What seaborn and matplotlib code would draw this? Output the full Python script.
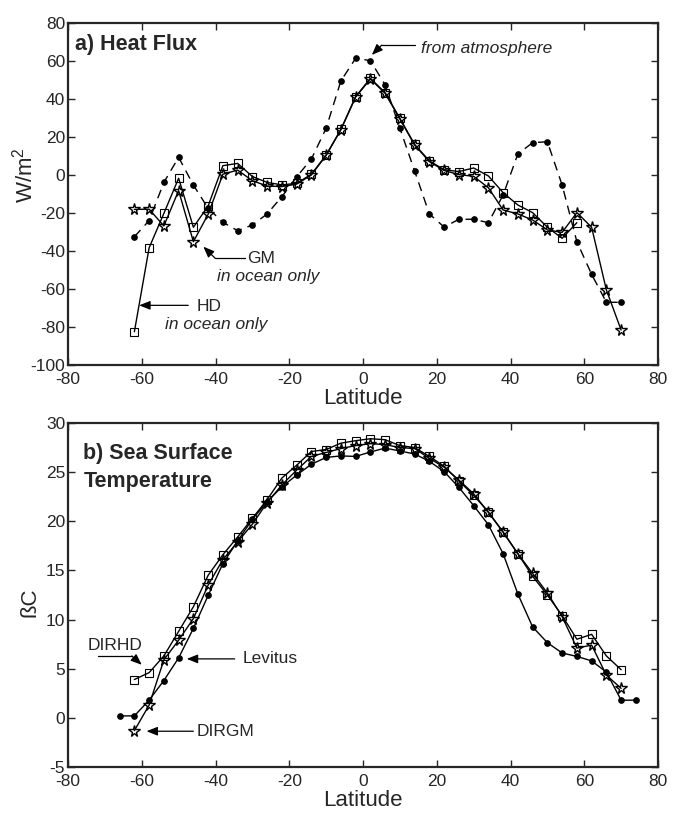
import numpy as np
import pandas as pd
import matplotlib
matplotlib.use("Agg")
import matplotlib.pyplot as plt
import seaborn as sns

# ---------------- data: (a) heat flux ----------------
lat_hd = [-62, -58, -54, -50, -46, -42, -38, -34, -30, -26, -22, -18, -14, -10, -6, -2,
          2, 6, 10, 14, 18, 22, 26, 30, 34, 38, 42, 46, 50, 54, 58]
flux_hd = [-82.5, -38.3, -20.2, -1.7, -27.5, -16.3, 4.9, 6.1, -0.8, -3.9, -5.2, -4.4, 0.4, 10.5, 24.0, 41.2,
           50.9, 43.3, 29.8, 16.1, 7.4, 2.8, 1.8, 3.7, -0.5, -9.3, -15.8, -19.8, -27.5, -33.3, -25.1]

lat_gm = [-62, -58, -54, -50, -46, -42, -38, -34, -30, -26, -22, -18, -14, -10, -6, -2,
          2, 6, 10, 14, 18, 22, 26, 30, 34, 38, 42, 46, 50, 54, 58, 62, 66, 70]
flux_gm = [-18.1, -18.0, -26.8, -8.2, -35.1, -20.7, 0.4, 2.6, -3.0, -5.8, -6.1, -4.8, 0.0, 10.3, 23.8, 41.0,
           50.5, 43.0, 29.5, 15.8, 7.0, 2.4, 0.2, -0.7, -6.7, -18.4, -20.5, -23.7, -28.9, -30.2, -19.8, -27.5, -60.5, -81.6]

lat_atm = [-62, -58, -54, -50, -46, -42, -38, -34, -30, -26, -22, -18, -14, -10, -6, -2,
           2, 6, 10, 14, 18, 22, 26, 30, 34, 38, 42, 46, 50, 54, 58, 62, 66, 70]
flux_atm = [-32.5, -24.0, -3.9, 9.3, -5.3, -17.5, -24.9, -29.3, -26.3, -20.5, -11.4, -1.0, 8.4, 24.6, 49.5, 61.4,
            60.2, 47.4, 24.6, 2.1, -20.5, -27.4, -23.3, -23.3, -25.1, -10.5, 11.1, 17.0, 17.5, -5.3, -35.1, -52.3, -67.0, -67.0]

# ---------------- data: (b) sea surface temperature ----------------
lat_lev = [-66, -62, -58, -54, -50, -46, -42, -38, -34, -30, -26, -22, -18, -14, -10, -6, -2,
           2, 6, 10, 14, 18, 22, 26, 30, 34, 38, 42, 46, 50, 54, 58, 62, 66, 70, 74]
sst_lev = [0.2, 0.2, 1.8, 3.8, 6.1, 9.1, 12.45, 15.7, 18.0, 20.2, 22.0, 23.5, 24.7, 25.8, 26.5, 26.65, 26.6,
           27.05, 27.45, 27.15, 26.85, 26.1, 25.05, 23.45, 21.6, 19.65, 16.7, 12.6, 9.25, 7.65, 6.6, 6.25, 5.8, 4.65, 1.8, 1.8]

lat_dir = [-62, -58, -54, -50, -46, -42, -38, -34, -30, -26, -22, -18, -14, -10, -6, -2,
           2, 6, 10, 14, 18, 22, 26, 30, 34, 38, 42, 46, 50, 54, 58, 62, 66, 70]
sst_dirhd = [3.9, 4.6, 6.3, 8.8, 11.3, 14.5, 16.6, 18.4, 20.3, 22.2, 24.4, 25.7, 27.1, 27.3, 27.95, 28.2,
             28.4, 28.3, 27.7, 27.5, 26.6, 25.6, 24.1, 22.65, 20.95, 18.9, 16.7, 14.4, 12.5, 10.4, 8.0, 8.5, 6.3, 4.9]
sst_dirgm = [-1.3, 1.3, 5.9, 7.9, 10.1, 13.5, 16.1, 17.9, 19.7, 21.9, 23.7, 25.2, 26.6, 27.0, 27.4, 27.7,
             27.9, 27.8, 27.5, 27.4, 26.4, 25.5, 24.2, 22.8, 20.9, 18.9, 16.7, 14.7, 12.7, 10.3, 7.1, 7.4, 4.35, 3.0]

x_ticks = [-80, -60, -40, -20, 0, 20, 40, 60, 80]
y_ticks_a = [-100, -80, -60, -40, -20, 0, 20, 40, 60, 80]
y_ticks_b = [-5, 0, 5, 10, 15, 20, 25, 30]

# ---------------- style ----------------
sns.set_style("ticks")
plt.rcParams['font.family'] = ['Liberation Sans', 'DejaVu Sans']
plt.rcParams['mathtext.fontset'] = 'custom'
plt.rcParams['mathtext.rm'] = 'Liberation Sans'
plt.rcParams['mathtext.it'] = 'Liberation Sans:italic'

fig = plt.figure(figsize=(6.74, 8.13), dpi=100)
ax1 = fig.add_axes([68 / 674, 1 - 365 / 813, 590 / 674, 342 / 813])
ax2 = fig.add_axes([68 / 674, 1 - 767 / 813, 590 / 674, 344 / 813])

LW = 1.0
common = dict(color='black', linewidth=LW, estimator=None, sort=False, legend=False)

def series(ax, x, y, marker, ms, fill, ls='-', mew=0.8):
    df = pd.DataFrame({'lat': x, 'val': y})
    sns.lineplot(data=df, x='lat', y='val', ax=ax, marker=marker, markersize=ms,
                 markerfacecolor=fill, markeredgecolor='black', markeredgewidth=mew,
                 linestyle=ls, **common)

# (a)
series(ax1, lat_atm, flux_atm, 'o', 4.0, 'black', ls=(0, (6.5, 4.5)))
series(ax1, lat_hd, flux_hd, 's', 5.5, 'none')
series(ax1, lat_gm, flux_gm, '*', 8.5, 'none', mew=1.0)

# (b)
series(ax2, lat_lev, sst_lev, 'o', 4.0, 'black')
series(ax2, lat_dir, sst_dirhd, 's', 5.5, 'none')
series(ax2, lat_dir, sst_dirgm, '*', 8.5, 'none', mew=1.0)

TICK_FS = 12.5
LAB_FS = 16
for ax, yt in ((ax1, y_ticks_a), (ax2, y_ticks_b)):
    ax.set_xlim(-80, 80)
    ax.set_xticks(x_ticks)
    ax.set_xticklabels([str(t) for t in x_ticks])
    ax.set_yticks(yt)
    ax.set_yticklabels([str(t) for t in yt])
    ax.set_ylim(yt[0], yt[-1])
    ax.tick_params(direction='in', length=5, width=1.0, top=True, right=True,
                   labelsize=TICK_FS)
    ax.tick_params(axis='x', pad=5)
    ax.tick_params(axis='y', pad=2)
    for s in ax.spines.values():
        s.set_linewidth(1.6)
        s.set_visible(True)
    ax.set_xlabel('Latitude', fontsize=LAB_FS, labelpad=1)

ax1.set_ylabel('W/m$^{2}$', fontsize=LAB_FS)
ax1.yaxis.set_label_coords(-0.052, 0.555)
ax2.set_ylabel('ßC', fontsize=LAB_FS)
ax2.yaxis.set_label_coords(-0.047, 0.48)

# titles
ax1.text(0.012, 0.938, 'a) Heat Flux', transform=ax1.transAxes, fontsize=15.5,
         fontweight='bold', ha='left', va='center')
ax2.text(0.026, 0.912, 'b) Sea Surface', transform=ax2.transAxes, fontsize=15.5,
         fontweight='bold', ha='left', va='center')
ax2.text(0.026, 0.829, 'Temperature', transform=ax2.transAxes, fontsize=15.5,
         fontweight='bold', ha='left', va='center')

NOTE_FS = 12.5
ARW = dict(arrowstyle='-|>,head_length=0.55,head_width=0.22', color='black', lw=0.9,
           shrinkA=0, shrinkB=0, mutation_scale=12)

def note(ax, path):
    if len(path) == 3:
        ax.plot([path[0][0], path[1][0]], [path[0][1], path[1][1]], color='black', lw=0.9)
        ax.annotate('', xy=path[2], xytext=path[1], arrowprops=ARW)
    else:
        ax.annotate('', xy=path[1], xytext=path[0], arrowprops=ARW)

# (a) annotations
ax1.text(15.7, 66.8, 'from atmosphere', fontsize=NOTE_FS, style='italic', ha='left', va='center')
note(ax1, [(14.1, 68.4), (5.1, 68.4), (2.4, 63.2)])
ax1.text(-31.5, -43.8, 'GM', fontsize=NOTE_FS, ha='left', va='center')
ax1.text(-39.7, -53.5, 'in ocean only', fontsize=NOTE_FS, style='italic', ha='left', va='center')
note(ax1, [(-32.0, -43.8), (-40.1, -43.8), (-43.3, -37.7)])
ax1.text(-45.1, -69.3, 'HD', fontsize=NOTE_FS, ha='left', va='center')
ax1.text(-53.7, -78.9, 'in ocean only', fontsize=NOTE_FS, style='italic', ha='left', va='center')
note(ax1, [(-47.4, -68.6), (-60.7, -68.6)])

# (b) annotations
ax2.text(-74.6, 7.4, 'DIRHD', fontsize=NOTE_FS, ha='left', va='center')
note(ax2, [(-71.8, 6.3), (-62.7, 6.3), (-60.0, 5.4)])
ax2.text(-32.6, 6.0, 'Levitus', fontsize=NOTE_FS, ha='left', va='center')
note(ax2, [(-34.8, 6.0), (-47.8, 6.0)])
ax2.text(-45.2, -1.36, 'DIRGM', fontsize=NOTE_FS, ha='left', va='center')
note(ax2, [(-46.0, -1.36), (-58.7, -1.36)])

fig.savefig('out.png', dpi=100)
